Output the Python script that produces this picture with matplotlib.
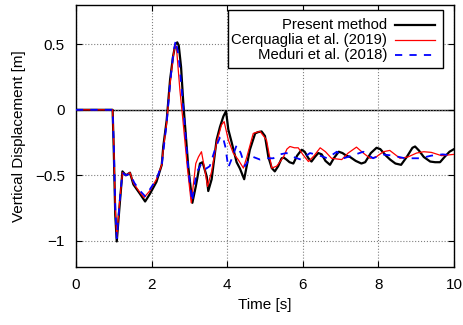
import matplotlib
matplotlib.use('Agg')
import matplotlib.pyplot as plt
from matplotlib.patches import Rectangle

plt.rcParams['font.family'] = ['Liberation Sans', 'DejaVu Sans']

# Present method
t_pm = [0, 0.97, 1.0, 1.04, 1.08, 1.15, 1.23, 1.32, 1.43, 1.52, 1.69, 1.83, 1.96, 2.13,
        2.27, 2.31, 2.40, 2.49, 2.57, 2.63, 2.68, 2.72, 2.78, 2.84, 2.97, 3.08, 3.17,
        3.28, 3.35, 3.46, 3.50, 3.59, 3.72, 3.81, 3.90, 3.97, 4.03, 4.12, 4.25, 4.34,
        4.45, 4.60, 4.74, 4.82, 4.91, 5.0, 5.09, 5.18, 5.26, 5.35, 5.44, 5.50, 5.57,
        5.65, 5.75, 5.85, 5.97, 6.05, 6.15, 6.23, 6.32, 6.41, 6.50, 6.60, 6.72, 6.82,
        6.95, 7.05, 7.15, 7.25, 7.40, 7.55, 7.65, 7.80, 7.95, 8.05, 8.20, 8.31, 8.45,
        8.60, 8.75, 8.90, 8.97, 9.07, 9.20, 9.37, 9.50, 9.63, 9.75, 9.88, 10.0]
y_pm = [0, 0, -0.3, -0.8, -1.005, -0.75, -0.47, -0.50, -0.48, -0.57, -0.64, -0.70, -0.64,
        -0.55, -0.42, -0.28, -0.08, 0.23, 0.41, 0.50, 0.515, 0.49, 0.33, 0.05, -0.43,
        -0.71, -0.585, -0.41, -0.40, -0.51, -0.62, -0.53, -0.23, -0.13, -0.05, -0.01,
        -0.15, -0.25, -0.40, -0.45, -0.53, -0.305, -0.18, -0.17, -0.165, -0.20, -0.36,
        -0.445, -0.47, -0.43, -0.37, -0.365, -0.38, -0.40, -0.41, -0.35, -0.305, -0.32,
        -0.37, -0.395, -0.36, -0.33, -0.34, -0.39, -0.42, -0.37, -0.32, -0.33, -0.35,
        -0.36, -0.39, -0.41, -0.40, -0.33, -0.29, -0.30, -0.35, -0.38, -0.41, -0.42,
        -0.36, -0.29, -0.28, -0.31, -0.36, -0.395, -0.40, -0.40, -0.36, -0.32, -0.30]

# Cerquaglia et al. (2019)
t_ce = [0, 0.97, 1.0, 1.04, 1.08, 1.15, 1.23, 1.32, 1.43, 1.52, 1.69, 1.80, 1.95, 2.13,
        2.27, 2.31, 2.40, 2.49, 2.57, 2.62, 2.66, 2.75, 2.82, 2.95, 3.05, 3.17, 3.24,
        3.32, 3.41, 3.48, 3.59, 3.72, 3.85, 3.92, 4.03, 4.16, 4.29, 4.43, 4.52, 4.69,
        4.80, 4.87, 5.04, 5.18, 5.31, 5.49, 5.58, 5.66, 5.78, 5.88, 6.01, 6.15, 6.30,
        6.46, 6.60, 6.76, 7.03, 7.20, 7.42, 7.60, 7.78, 7.94, 8.13, 8.30, 8.57, 8.78,
        9.01, 9.20, 9.40, 9.67, 10.0]
y_ce = [0, 0, -0.25, -0.75, -0.97, -0.72, -0.48, -0.50, -0.48, -0.56, -0.63, -0.67, -0.62,
        -0.53, -0.42, -0.30, -0.10, 0.20, 0.40, 0.50, 0.47, 0.15, -0.05, -0.45, -0.71,
        -0.41, -0.36, -0.32, -0.46, -0.585, -0.47, -0.25, -0.115, -0.09, -0.23, -0.33,
        -0.38, -0.445, -0.36, -0.18, -0.17, -0.165, -0.23, -0.445, -0.43, -0.36, -0.30,
        -0.28, -0.29, -0.29, -0.345, -0.395, -0.35, -0.29, -0.32, -0.37, -0.38, -0.33,
        -0.285, -0.33, -0.37, -0.36, -0.32, -0.31, -0.37, -0.36, -0.33, -0.32, -0.325,
        -0.35, -0.34]

# Meduri et al. (2018)
t_me = [0, 0.97, 1.0, 1.04, 1.08, 1.15, 1.23, 1.32, 1.43, 1.55, 1.70, 1.83, 1.95, 2.13,
        2.27, 2.40, 2.49, 2.57, 2.64, 2.72, 2.84, 2.97, 3.07, 3.19, 3.32, 3.44, 3.54,
        3.68, 3.81, 3.88, 3.95, 4.03, 4.14, 4.25, 4.36, 4.47, 4.58, 4.69, 4.87, 5.04,
        5.22, 5.40, 5.57, 5.75, 5.95, 6.19, 6.45, 6.65, 6.90, 7.08, 7.30, 7.60, 7.86,
        8.10, 8.39, 8.70, 9.10, 9.40, 9.70, 10.0]
y_me = [0, 0, -0.25, -0.75, -0.98, -0.72, -0.48, -0.50, -0.49, -0.56, -0.62, -0.66, -0.61,
        -0.53, -0.42, -0.10, 0.20, 0.42, 0.53, 0.40, 0.02, -0.45, -0.70, -0.48, -0.41,
        -0.45, -0.43, -0.30, -0.21, -0.20, -0.28, -0.44, -0.36, -0.27, -0.33, -0.43,
        -0.38, -0.36, -0.38, -0.37, -0.37, -0.34, -0.33, -0.36, -0.38, -0.33, -0.35,
        -0.37, -0.32, -0.37, -0.35, -0.32, -0.37, -0.34, -0.35, -0.37, -0.37, -0.35,
        -0.34, -0.35]

labels = ['Present method', 'Cerquaglia et al. (2019)', 'Meduri et al. (2018)']
colors = ['black', 'red', 'blue']
widths = [1.6, 0.9, 1.3]
styles = ['-', '-', (0, (4, 4))]

fig = plt.figure(figsize=(4.63, 3.25), dpi=100)
ax = fig.add_axes([0.164, 0.1785, 0.8166, 0.806])

ax.axhline(0, color='black', lw=1.0, zorder=1)
series = [(t_pm, y_pm), (t_ce, y_ce), (t_me, y_me)]
for i, (tt, yy) in enumerate(series):
    ax.plot(tt, yy, color=colors[i], lw=widths[i], ls=styles[i], zorder=3 + i)

ax.set_xlim(0, 10)
ax.set_ylim(-1.2, 0.8)
ax.set_xticks([0, 2, 4, 6, 8, 10])
ax.set_yticks([-1, -0.5, 0, 0.5])
ax.set_yticklabels(['\u22121', '\u22120.5', '0', '0.5'])
ax.grid(True, color='gray', ls=':', lw=0.8)
ax.tick_params(direction='in', top=True, right=True, labelsize=11, length=4, pad=8)
for s in ax.spines.values():
    s.set_linewidth(1.0)

ax.set_xlabel('Time [s]', fontsize=11, labelpad=4)
ax.set_ylabel('Vertical Displacement [m]', fontsize=11, labelpad=6)

# gnuplot style key: right-justified text, sample line on the right
ax.add_patch(Rectangle((0.402, 0.760), 0.569, 0.221, transform=ax.transAxes,
                       facecolor='white', edgecolor='black', lw=1.0, zorder=10))
rows = [0.925, 0.866, 0.810]
for i in range(3):
    ax.text(0.823, rows[i], labels[i], transform=ax.transAxes, ha='right', va='center',
            fontsize=10.7, zorder=11)
    ax.plot([0.844, 0.950], [rows[i], rows[i]], transform=ax.transAxes, color=colors[i],
            lw=widths[i], ls=styles[i], zorder=11, clip_on=False)

fig.savefig('out.png', dpi=100)
